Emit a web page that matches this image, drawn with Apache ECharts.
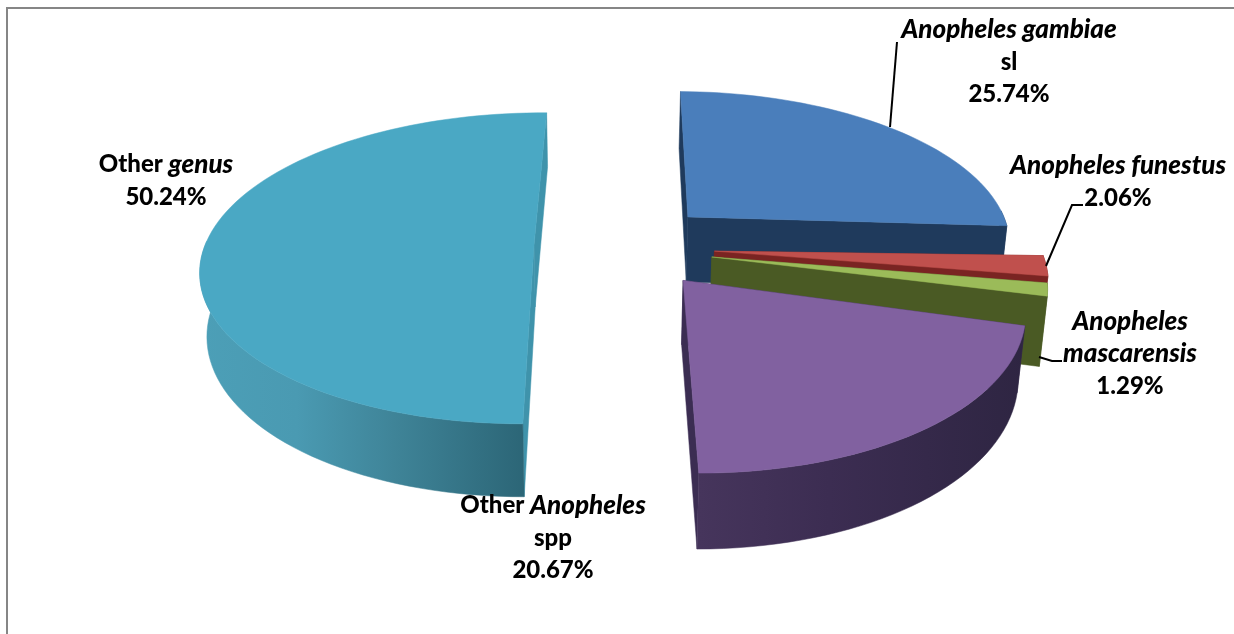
<!DOCTYPE html>
<html><head><meta charset="utf-8">
<style>html,body{margin:0;padding:0;background:#fff}#c{width:1234px;height:634px}</style>
<script src="https://cdn.jsdelivr.net/npm/echarts@6/dist/echarts.min.js"></script>
</head><body><div id="c"></div>
<script>
var sliceNames = ['Anopheles gambiae sl','Anopheles funestus','Anopheles mascarensis','Other Anopheles spp','Other genus'];
var sliceValues = [25.74, 2.06, 1.29, 20.67, 50.24];
var sliceTop = ['#4A7EBB','#C0504D','#9BBB59','#8161A0','#4AA8C4'];
var sliceFace = ['#1F3A5C','#7A2422','#4A5A24','#3B2D52','#3F93AB'];
var sliceWall = [
  [[0,'#1F3A5C'],[1,'#1F3A5C']],
  [[0,'#7A2422'],[1,'#7A2422']],
  [[0,'#4A5A24'],[1,'#4A5A24']],
  [[0,'#46355C'],[0.4,'#3C2D52'],[1,'#2E2542']],
  [[0,'#4C9FB7'],[0.3,'#4A9AB2'],[0.6,'#3F8498'],[1,'#2C6677']]
];
// projection of the pie plane
var P = {cx:600, cy:245, rx:325, ry:152, k:0.15, h:62, shrink:0.982, start:0.8};
// exploded offset in plane units, horizontal radius factor, angle nudge and wall height factor per slice
var geom = [
  {a:0.278,b:-0.19,f:1.0,da:0,hf:1.08},
  {a:0.350,b:0.04,f:1.0,da:-1.8,hf:1},
  {a:0.340,b:0.078,f:1.0,da:-1.5,hf:1.08},
  {a:0.247,b:0.225,f:1.0,da:0,hf:1},
  {a:-0.203,b:0,f:1.012,da:0,hf:1}
];
var order = [0,4,1,2,3];
var total = sliceValues.reduce(function(s,v){return s+v;},0);
function proj(U,V,hf){
  var s = 1/(1-P.k*V);
  var x = P.cx + P.rx*U*s, y = P.cy + P.ry*V*s;
  return {top:[x,y], bot:[P.cx+(x-P.cx)*P.shrink, y+P.h*hf*s]};
}
function rimPts(g,a0,a1){
  var n = Math.max(4,Math.ceil((a1-a0)/2)), out=[];
  for(var i=0;i<=n;i++){
    var t=(a0+(a1-a0)*i/n)*Math.PI/180;
    var p=proj(g.a+g.f*Math.sin(t), g.b-Math.cos(t), g.hf);
    p.front=Math.cos(t)<0.05;
    out.push(p);
  }
  return out;
}
var angleStart=[], acc=P.start;
sliceValues.forEach(function(v,i){angleStart[i]=acc;acc+=v/total*360;});

function poly(points,fill,z){
  return {type:'polygon',shape:{points:points},style:{fill:fill,stroke:fill,lineWidth:0.5},z2:z};
}
function renderItem(params,api){
  var i = api.value(0), val = api.value(1);
  var g = geom[i], a0 = angleStart[i]+g.da, a1 = a0+val/total*360;
  var rim = rimPts(g,a0,a1), apex = proj(g.a,g.b,g.hf);
  var first = rim[0], last = rim[rim.length-1];
  var tops = rim.map(function(p){return p.top;});
  var vis = rim.filter(function(p){return p.front;});
  var wTop = vis.map(function(p){return p.top;});
  var wBot = vis.map(function(p){return p.bot;});
  var xs = wTop.map(function(p){return p[0];});
  var grad = {type:'linear',global:true,
    x:Math.min.apply(null,xs),y:0,x2:Math.max.apply(null,xs),y2:0,
    colorStops:sliceWall[i].map(function(s){return {offset:s[0],color:s[1]};})};
  var r = order.indexOf(i)*10;
  return {type:'group',children:[
    poly([apex.top,first.top,first.bot,apex.bot],sliceFace[i],r+1),
    poly([apex.top,last.top,last.bot,apex.bot],sliceFace[i],r+1),
    poly(wTop.concat(wBot.slice().reverse()),grad,r+2),
    poly([apex.top].concat(tops),sliceTop[i],r+3)
  ]};
}
var rows = order.map(function(i){return [i,sliceValues[i]];});

function label(x,y,lines){
  var rich = {b:{fontFamily:'Lato',fontWeight:900,fontSize:24,lineHeight:32.5,fill:'#000',color:'#000'},
              i:{fontFamily:'Lato',fontWeight:900,fontStyle:'italic',fontSize:26,lineHeight:32.5,fill:'#000',color:'#000'}};
  return {type:'text',x:x,y:y,z:10,style:{text:lines.join('\n'),rich:rich,align:'center',verticalAlign:'middle',fill:'#000',
    font:'900 24px Lato',lineHeight:32.5}};
}
function pct(i){return '{b|'+sliceValues[i].toFixed(2)+'%}';}
function leader(pts){
  return {type:'polyline',z:10,shape:{points:pts},style:{stroke:'#000',lineWidth:2,fill:null}};
}
var chart = echarts.init(document.getElementById('c'),null,{renderer:'canvas'});
chart.setOption({
  animation:false,
  backgroundColor:'#fff',
  series:[{type:'custom',coordinateSystem:'none',renderItem:renderItem,data:rows,silent:true,animation:false}],
  graphic:[
    {type:'polyline',z:9,shape:{points:[[7,634],[7,8],[1234,8]]},style:{stroke:'#868686',lineWidth:2,fill:null}},
    label(1009,62,['{i|Anopheles gambiae}','{b|sl}',pct(0)]),
    label(1118,182,['{i|Anopheles funestus}',pct(1)]),
    label(1130,354,['{i|Anopheles}','{i|mascarensis}',pct(2)]),
    label(553,538,['{b|Other }{i|Anopheles}','{b|spp}',pct(3)]),
    label(166,181,['{b|Other }{i|genus}',pct(4)]),
    leader([[890,127],[897,42]]),
    leader([[1046,266],[1072,205],[1083,205]]),
    leader([[1039,357],[1052,361],[1062,361]])
  ]
});
</script></body></html>
